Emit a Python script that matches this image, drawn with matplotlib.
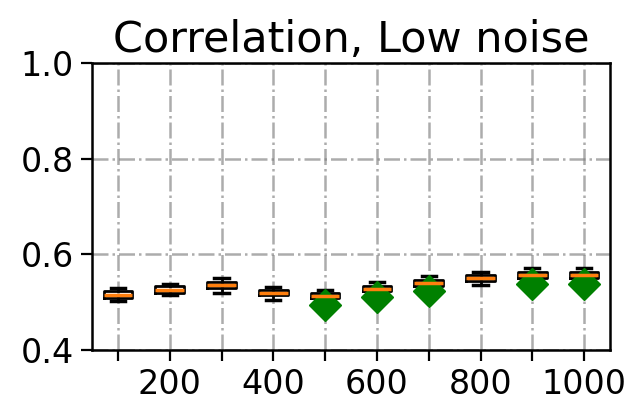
import matplotlib
matplotlib.use('Agg')
import matplotlib.pyplot as plt

# values (one box per sample size)
sizes = [100, 200, 300, 400, 500, 600, 700, 800, 900, 1000]
medians = [0.515, 0.526, 0.535, 0.520, 0.5135, 0.528, 0.541, 0.5505, 0.557, 0.557]
q1s = [0.508, 0.520, 0.530, 0.515, 0.509, 0.523, 0.534, 0.545, 0.551, 0.551]
q3s = [0.5233, 0.534, 0.542, 0.525, 0.519, 0.534, 0.546, 0.557, 0.5625, 0.5625]
whislo = [0.503, 0.514, 0.520, 0.5045, 0.501, 0.515, 0.526, 0.536, 0.543, 0.543]
whishi = [0.530, 0.539, 0.550, 0.532, 0.525, 0.5415, 0.5547, 0.5637, 0.571, 0.572]
outliers = [[], [], [], [], [0.495], [0.511], [0.524], [], [0.5386], [0.537]]
tick_labels = ['', '200', '', '400', '', '600', '', '800', '', '1000']

stats = []
for i in range(len(sizes)):
    stats.append(dict(med=medians[i], q1=q1s[i], q3=q3s[i],
                      whislo=whislo[i], whishi=whishi[i], fliers=outliers[i]))

fig = plt.figure(figsize=(6.31, 4.11), dpi=100)
ax = fig.add_axes([0.1458, 0.1484, 0.821, 0.6983])

ax.bxp(stats, positions=sizes, widths=55,
       boxprops=dict(color='black', linewidth=2),
       whiskerprops=dict(color='black', linewidth=2),
       capprops=dict(color='black', linewidth=2.5),
       medianprops=dict(color='#ff7f0e', linewidth=2.5),
       flierprops=dict(marker='D', markerfacecolor='green', markeredgecolor='green',
                       markersize=16))

ax.set_xlim(50, 1050)
ax.set_ylim(0.4, 1.0)
ax.set_xticks(sizes)
ax.set_xticklabels(tick_labels)
ax.set_yticks([0.4, 0.6, 0.8, 1.0])
ax.grid(True, linestyle='-.', color='gray', alpha=0.65, linewidth=1.8)
ax.set_axisbelow(True)
ax.tick_params(labelsize=24, length=8, width=1.6, pad=5)
for s in ax.spines.values():
    s.set_linewidth(1.8)
ax.set_title('Correlation, Low noise', fontsize=31, pad=8)

fig.savefig('out.png', dpi=100)
